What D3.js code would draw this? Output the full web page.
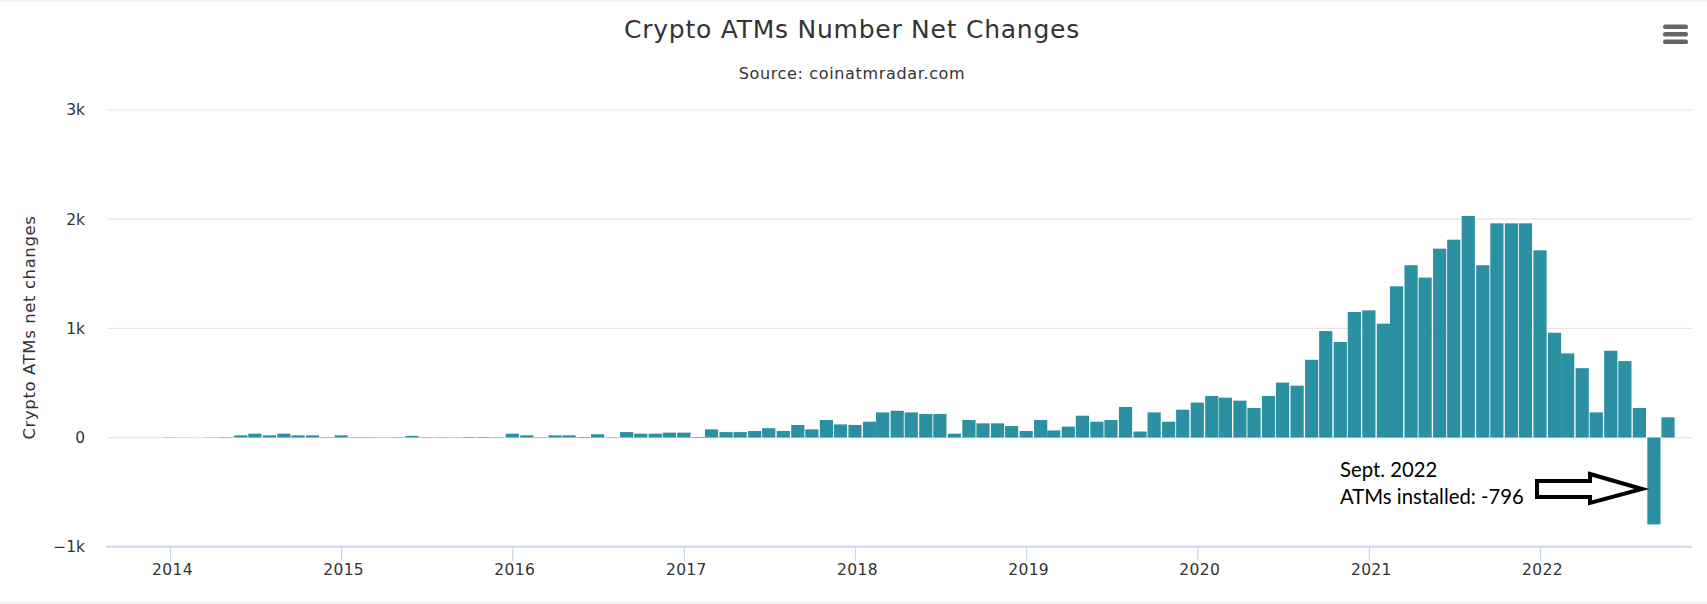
<!DOCTYPE html>
<html><head><meta charset="utf-8">
<script src="https://cdn.jsdelivr.net/npm/d3@7"></script>
<style>
html,body{margin:0;padding:0;background:#fff;overflow:hidden}
svg{display:block}
text{font-family:"DejaVu Sans",sans-serif}
</style></head><body>
<div id="chart"></div>
<script>
const titleText = "Crypto ATMs Number Net Changes";
const subtitleText = "Source: coinatmradar.com";
const yAxisTitle = "Crypto ATMs net changes";
const yTickValues = [-1000, 0, 1000, 2000, 3000];
const yTickLabels = ["\u22121k", "0", "1k", "2k", "3k"];
const xTickYears = [2014, 2015, 2016, 2017, 2018, 2019, 2020, 2021, 2022];
const startYear = 2014;
const netChanges = [
  2, 1, 0, 2, 4, 20, 35, 20, 35, 20, 20, 4,
  20, 3, 3, 2, 3, 15, 3, 3, 2, 5, 5, 3,
  35, 20, 3, 20, 20, 5, 30, 3, 50, 35, 35, 45,
  45, 5, 75, 50, 50, 60, 85, 60, 115, 75, 160, 120,
  115, 145, 230, 245, 230, 215, 215, 35, 160, 130, 130, 105,
  60, 160, 65, 100, 200, 145, 160, 280, 55, 230, 145, 255,
  320, 380, 365, 338, 270, 380, 503, 475, 712, 975, 875, 1150,
  1165, 1043, 1385, 1578, 1465, 1730, 1812, 2030, 1578, 1962, 1962, 1962,
  1715, 960, 770, 635, 230, 795, 700, 270, -796, 185
];
const noteLines = ["Sept. 2022", "ATMs installed: -796"];

const W = 1707, H = 604;
const svg = d3.select("#chart").append("svg").attr("width", W).attr("height", H);

svg.append("rect").attr("width", W).attr("height", 2).attr("fill", "#f3f3f3");
svg.append("rect").attr("y", 602).attr("width", W).attr("height", 2).attr("fill", "#f3f3f3");

const monthDate = i => new Date(Date.UTC(startYear, i, 1));
const x = d3.scaleUtc()
  .domain([monthDate(0), monthDate(96)])
  .range([170, 1540]);
const y = d3.scaleLinear().domain([-1000, 3000]).range([546.7, 110]);
const plotLeft = 108, plotRight = 1692;

// gridlines
svg.append("g").selectAll("line")
  .data(yTickValues.filter(v => v > -1000))
  .join("line")
  .attr("x1", plotLeft).attr("x2", plotRight)
  .attr("y1", d => y(d)).attr("y2", d => y(d))
  .attr("stroke", "#e6e6e6").attr("stroke-width", 1.2);

// bars
const barW = 13.2;
svg.append("g").selectAll("rect")
  .data(netChanges)
  .join("rect")
  .attr("x", (d, i) => x(monthDate(i)) - barW / 2)
  .attr("width", barW)
  .attr("y", d => Math.min(y(d), y(0)))
  .attr("height", d => Math.abs(y(d) - y(0)))
  .attr("fill", "#2a90a2");

// x axis
const xAxis = d3.axisBottom(x)
  .tickValues(xTickYears.map(yr => new Date(Date.UTC(yr, 0, 1))))
  .tickFormat(d3.utcFormat("%Y"))
  .tickSize(14).tickPadding(3);
const gx = svg.append("g").attr("transform", `translate(0,${y(-1000)})`).call(xAxis);
gx.select(".domain").remove();
gx.insert("line", ":first-child").attr("x1", plotLeft - 2).attr("x2", plotRight)
  .attr("stroke", "#ccd6eb").attr("stroke-width", 2);
gx.selectAll(".tick line").attr("stroke", "#ccd6eb").attr("stroke-width", 1.2);
gx.selectAll(".tick text").attr("fill", "#333").attr("font-size", 15.5).attr("dx", 2)
  .style("letter-spacing", "0.35px")
  .style("font-family", '"DejaVu Sans",sans-serif');

// y axis
const yAxis = d3.axisLeft(y).tickValues(yTickValues)
  .tickFormat((d, i) => yTickLabels[i]).tickSize(0).tickPadding(0);
const gy = svg.append("g").attr("transform", "translate(85,0)").call(yAxis);
gy.select(".domain").remove();
gy.selectAll(".tick text").attr("fill", "#333").attr("font-size", 15.5)
  .style("font-family", '"DejaVu Sans",sans-serif');

// titles
svg.append("text").attr("x", 852).attr("y", 38).attr("text-anchor", "middle")
  .attr("font-size", 25).style("letter-spacing", "0.75px").attr("fill", "#333").text(titleText);
svg.append("text").attr("x", 852).attr("y", 79).attr("text-anchor", "middle")
  .attr("font-size", 16).style("letter-spacing", "0.65px").attr("fill", "#333").text(subtitleText);
svg.append("text").attr("transform", `translate(35,${y(0) - 110}) rotate(-90)`)
  .attr("text-anchor", "middle").attr("font-size", 16.5).style("letter-spacing", "0.6px")
  .attr("fill", "#333").text(yAxisTitle);

// hamburger menu
svg.append("g").selectAll("rect").data([0, 1, 2]).join("rect")
  .attr("x", 1663).attr("y", d => 24.5 + d * 7.5)
  .attr("width", 25).attr("height", 4.6).attr("rx", 2.2)
  .attr("fill", "#666");

// annotation text
svg.append("g").selectAll("text").data(noteLines).join("text")
  .attr("x", 1340).attr("y", (d, i) => 477 + i * 27)
  .style("font-family", "Lato,sans-serif")
  .attr("font-size", 20.3).attr("fill", "#000").text(d => d);

// arrow
svg.append("path")
  .attr("d", "M1537,481 L1590,481 L1590,474 L1642,489 L1590,503 L1590,497 L1537,497 Z")
  .attr("fill", "#fff").attr("stroke", "#000").attr("stroke-width", 4)
  .attr("stroke-linejoin", "miter");
</script>
</body></html>
